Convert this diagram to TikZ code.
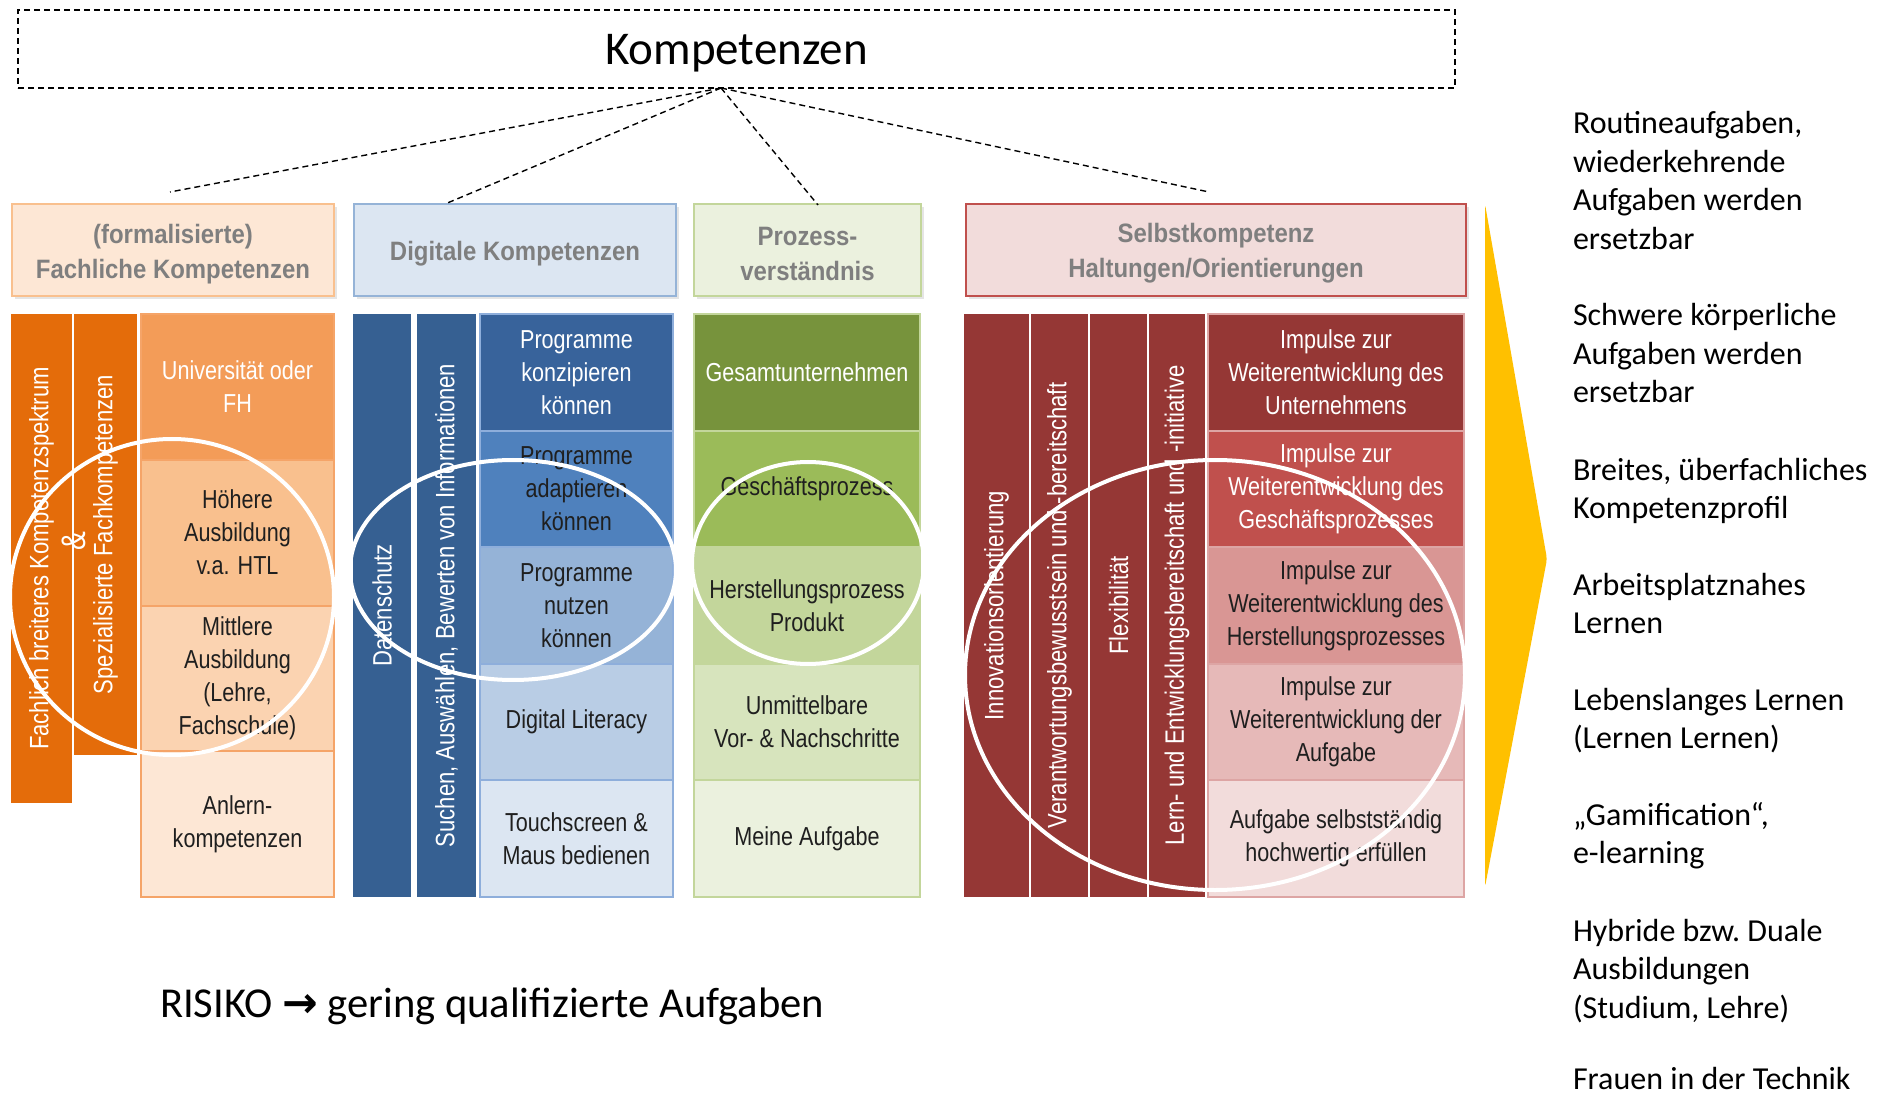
\documentclass[tikz,border=0pt]{standalone}
\usepackage{fontspec}
\setmainfont{Carlito}
\newfontfamily\boxfont[FakeStretch=0.83]{Liberation Sans}
\newfontfamily\headfont[FakeStretch=0.9]{Liberation Sans}
\newfontfamily\symfont{DejaVu Sans}
\usetikzlibrary{positioning,shadows}

% Fachliche Kompetenzen
\definecolor{orDark}{HTML}{E46C0A}
\definecolor{orA}{HTML}{F39C58}
\definecolor{orB}{HTML}{F9C08E}
\definecolor{orC}{HTML}{FBD3B1}
\definecolor{orD}{HTML}{FDE7D5}
\definecolor{orLine}{HTML}{F5A468}
% Digitale Kompetenzen
\definecolor{diDark}{HTML}{366092}
\definecolor{diA}{HTML}{38639B}
\definecolor{diB}{HTML}{4F81BD}
\definecolor{diC}{HTML}{95B3D7}
\definecolor{diD}{HTML}{B9CDE5}
\definecolor{diE}{HTML}{DCE6F2}
\definecolor{diLine}{HTML}{8EAEDB}
% Prozessverstaendnis
\definecolor{prA}{HTML}{77933C}
\definecolor{prB}{HTML}{9BBB59}
\definecolor{prC}{HTML}{C3D69B}
\definecolor{prD}{HTML}{D7E4BD}
\definecolor{prE}{HTML}{EBF1DE}
% Selbstkompetenz
\definecolor{seDark}{HTML}{953735}
\definecolor{seB}{HTML}{C0504D}
\definecolor{seC}{HTML}{D99694}
\definecolor{seD}{HTML}{E6B9B8}
\definecolor{seE}{HTML}{F2DCDB}
\definecolor{seLine}{HTML}{DDA5A4}
\definecolor{headgray}{HTML}{7F7F7F}
\definecolor{ink}{HTML}{1F1F1F}
\definecolor{arrowgold}{HTML}{FFC000}

\newcommand{\hstrut}{\rule{0pt}{13.3pt}}

\begin{document}
\begin{tikzpicture}
		[x=0.5pt, y=-0.5pt,
		every node/.style={inner sep=0pt, outer sep=0pt},
		bar/.style={anchor=north west},
		vtext/.style={rotate=90, text=white, font=\boxfont\fontsize{13.3}{15}\selectfont},
		cell/.style={draw, line width=1pt, align=center, text=ink, font=\boxfont\fontsize{13}{16.5}\selectfont},
		head/.style={draw, line width=1.2pt, anchor=north west, align=center, minimum height=46pt, text=headgray, font=\headfont\bfseries\fontsize{13.3}{17.5}\selectfont, drop shadow={shadow xshift=1.5pt, shadow yshift=-1.5pt, opacity=0.2}},
		ring/.style={draw=white, line width=2pt},
		link/.style={line width=0.7pt, dash pattern=on 3pt off 2pt},
		note/.style={anchor=base west, align=left, font=\fontsize{16}{19.25}\selectfont}]
		\useasboundingbox (0,0) rectangle (1885,1096);
		\fill[white] (0,0) rectangle (1885,1096);
		
		\node[draw, link, line width=1pt, anchor=north west, minimum width=718.5pt, minimum height=39pt, text depth=0pt, font=\fontsize{23.5}{28}\selectfont] (komp) at (18,10) {Kompetenzen};
		\coordinate (apex) at (721,88);
		\coordinate (fachTop) at (170,192);
		\coordinate (digiTop) at (445,204);
		\coordinate (prozTop) at (818,205);
		\coordinate (selbTop) at (1209,192);
		
		% headers
		\node[head, fill=orD, draw=orB, minimum width=161pt] (fachHead) at (12,204) {\hstrut(formalisierte)\\Fachliche Kompetenzen};
		\node[head, fill=diE, draw=diC, minimum width=161pt] (digiHead) at (354,204) {\hstrut Digitale Kompetenzen};
		\node[head, fill=prE, draw=prC, minimum width=113.5pt] (prozHead) at (694,204) {\hstrut Prozess-\\verständnis};
		\node[head, fill=seE, draw=seB, minimum width=250pt] (selbHead) at (966,204) {\hstrut Selbstkompetenz\\Haltungen/Orientierungen};
		
		% fachliche Kompetenzen
		\node[bar, fill=orDark, minimum width=30.5pt, minimum height=244.5pt] (fachS1) at (11,314) {};
		\node[bar, fill=orDark, minimum width=31.5pt, minimum height=220.5pt] (fachS2) at (74,314) {};
		\node[vtext] at (fachS1.center) {Fachlich breiteres Kompetenzspektrum};
		\node[vtext] at (fachS2.center) {Spezialisierte Fachkompetenzen};
		\node[vtext, font=\boxfont\fontsize{17}{18}\selectfont] (und) at (74,541) {\&};
		\node[cell, bar, fill=orA, draw=orLine, text=white, minimum width=96.5pt, minimum height=72.875pt] (fachA) at (141,314) {Universität oder\\FH};
		\node[cell, fill=orB, draw=orLine, minimum width=96.5pt, minimum height=72.875pt, below=0pt of fachA] (fachB) {Höhere\\Ausbildung\\v.a. HTL};
		\node[cell, fill=orC, draw=orLine, minimum width=96.5pt, minimum height=72.875pt, below=0pt of fachB] (fachC) {Mittlere\\Ausbildung\\(Lehre,\\Fachschule)};
		\node[cell, fill=orD, draw=orLine, minimum width=96.5pt, minimum height=72.875pt, below=0pt of fachC] (fachD) {Anlern-\\kompetenzen};
		
		% digitale Kompetenzen
		\node[bar, fill=diDark, minimum width=29pt, minimum height=291.5pt] (digiS1) at (353,314) {};
		\node[bar, fill=diDark, minimum width=29.5pt, minimum height=291.5pt] (digiS2) at (417,314) {};
		\node[vtext] at (digiS1.center) {Datenschutz};
		\node[vtext] at (digiS2.center) {Suchen, Auswählen, Bewerten von Informationen};
		\node[cell, bar, fill=diA, draw=diLine, text=white, minimum width=96.5pt, minimum height=58.3pt] (digiA) at (480,314) {Programme\\konzipieren\\können};
		\node[cell, fill=diB, draw=diLine, minimum width=96.5pt, minimum height=58.3pt, below=0pt of digiA] (digiB) {Programme\\adaptieren\\können};
		\node[cell, fill=diC, draw=diLine, minimum width=96.5pt, minimum height=58.3pt, below=0pt of digiB] (digiC) {Programme\\nutzen\\können};
		\node[cell, fill=diD, draw=diLine, minimum width=96.5pt, minimum height=58.3pt, below=0pt of digiC] (digiD) {Digital Literacy};
		\node[cell, fill=diE, draw=diLine, minimum width=96.5pt, minimum height=58.3pt, below=0pt of digiD] (digiE) {Touchscreen \&\\Maus bedienen};
		
		% Prozessverstaendnis
		\node[cell, bar, fill=prA, draw=prC, text=white, minimum width=113pt, minimum height=58.3pt] (prozA) at (694,314) {Gesamtunternehmen};
		\node[cell, fill=prB, draw=prC, minimum width=113pt, minimum height=58.3pt, below=0pt of prozA] (prozB) {Geschäftsprozess};
		\node[cell, fill=prC, draw=prC, minimum width=113pt, minimum height=58.3pt, below=0pt of prozB] (prozC) {Herstellungsprozess\\Produkt};
		\node[cell, fill=prD, draw=prC, minimum width=113pt, minimum height=58.3pt, below=0pt of prozC] (prozD) {Unmittelbare\\Vor- \& Nachschritte};
		\node[cell, fill=prE, draw=prC, minimum width=113pt, minimum height=58.3pt, below=0pt of prozD] (prozE) {Meine Aufgabe};
		
		% Selbstkompetenz
		\node[bar, fill=seDark, minimum width=32.5pt, minimum height=291.5pt] (selbS1) at (964,314) {};
		\node[bar, fill=seDark, minimum width=28.5pt, minimum height=291.5pt] (selbS2) at (1031,314) {};
		\node[bar, fill=seDark, minimum width=28.5pt, minimum height=291.5pt] (selbS3) at (1090,314) {};
		\node[bar, fill=seDark, minimum width=28pt, minimum height=291.5pt] (selbS4) at (1149,314) {};
		\node[vtext] at (selbS1.center) {Innovationsorientierung};
		\node[vtext] at (selbS2.center) {Verantwortungsbewusstsein und -bereitschaft};
		\node[vtext] at (selbS3.center) {Flexibilität};
		\node[vtext] at (selbS4.center) {Lern- und Entwicklungsbereitschaft und -initiative};
		\node[cell, bar, fill=seDark, draw=seLine, text=white, minimum width=128pt, minimum height=58.3pt] (selbA) at (1208,314) {Impulse zur\\Weiterentwicklung des\\Unternehmens};
		\node[cell, fill=seB, draw=seLine, text=white, minimum width=128pt, minimum height=58.3pt, below=0pt of selbA] (selbB) {Impulse zur\\Weiterentwicklung des\\Geschäftsprozesses};
		\node[cell, fill=seC, draw=seLine, minimum width=128pt, minimum height=58.3pt, below=0pt of selbB] (selbC) {Impulse zur\\Weiterentwicklung des\\Herstellungsprozesses};
		\node[cell, fill=seD, draw=seLine, minimum width=128pt, minimum height=58.3pt, below=0pt of selbC] (selbD) {Impulse zur\\Weiterentwicklung der\\Aufgabe};
		\node[cell, fill=seE, draw=seLine, minimum width=128pt, minimum height=58.3pt, below=0pt of selbD] (selbE) {Aufgabe selbstständig\\hochwertig erfüllen};
		
		% white rings
		\draw[ring] (172,597) ellipse [x radius=162, y radius=158];
		\draw[ring] (513,570) ellipse [x radius=163, y radius=110];
		\draw[ring] (808,563) ellipse [x radius=116, y radius=101];
		\draw[ring] (1215,675) ellipse [x radius=250, y radius=215];
		
		\path[link] (apex) edge (fachTop);
		\path[link] (apex) edge (digiTop);
		\path[link] (apex) edge (prozTop);
		\path[link] (apex) edge (selbTop);
		
		\node[anchor=base west, font=\fontsize{21.3}{25}\selectfont] (risiko) at (160,1017) {RISIKO {\symfont\bfseries →} gering qualifizierte Aufgaben};
		
		\fill[arrowgold, rounded corners=2pt] (1485,204) -- (1547,559) -- (1485,887) -- cycle;
		
		% notes: anchored at the baseline of their last line
		\node[note] (n1) at (1573,249.5) {Routineaufgaben,\\wiederkehrende\\Aufgaben werden\\ersetzbar};
		\node[note] (n2) at (1573,403) {Schwere körperliche\\Aufgaben werden\\ersetzbar};
		\node[note] (n3) at (1573,518.5) {Breites, überfachliches\\Kompetenzprofil};
		\node[note] (n4) at (1573,633.5) {Arbeitsplatznahes\\Lernen};
		\node[note] (n5) at (1573,748.5) {Lebenslanges Lernen\\(Lernen Lernen)};
		\node[note] (n6) at (1573,863.5) {„Gamification“,\\e-learning};
		\node[note] (n7) at (1573,1018) {Hybride bzw.\ Duale\\Ausbildungen\\(Studium, Lehre)};
		\node[note] (n8) at (1573,1089) {Frauen in der Technik};
		\end{tikzpicture}
\end{document}
